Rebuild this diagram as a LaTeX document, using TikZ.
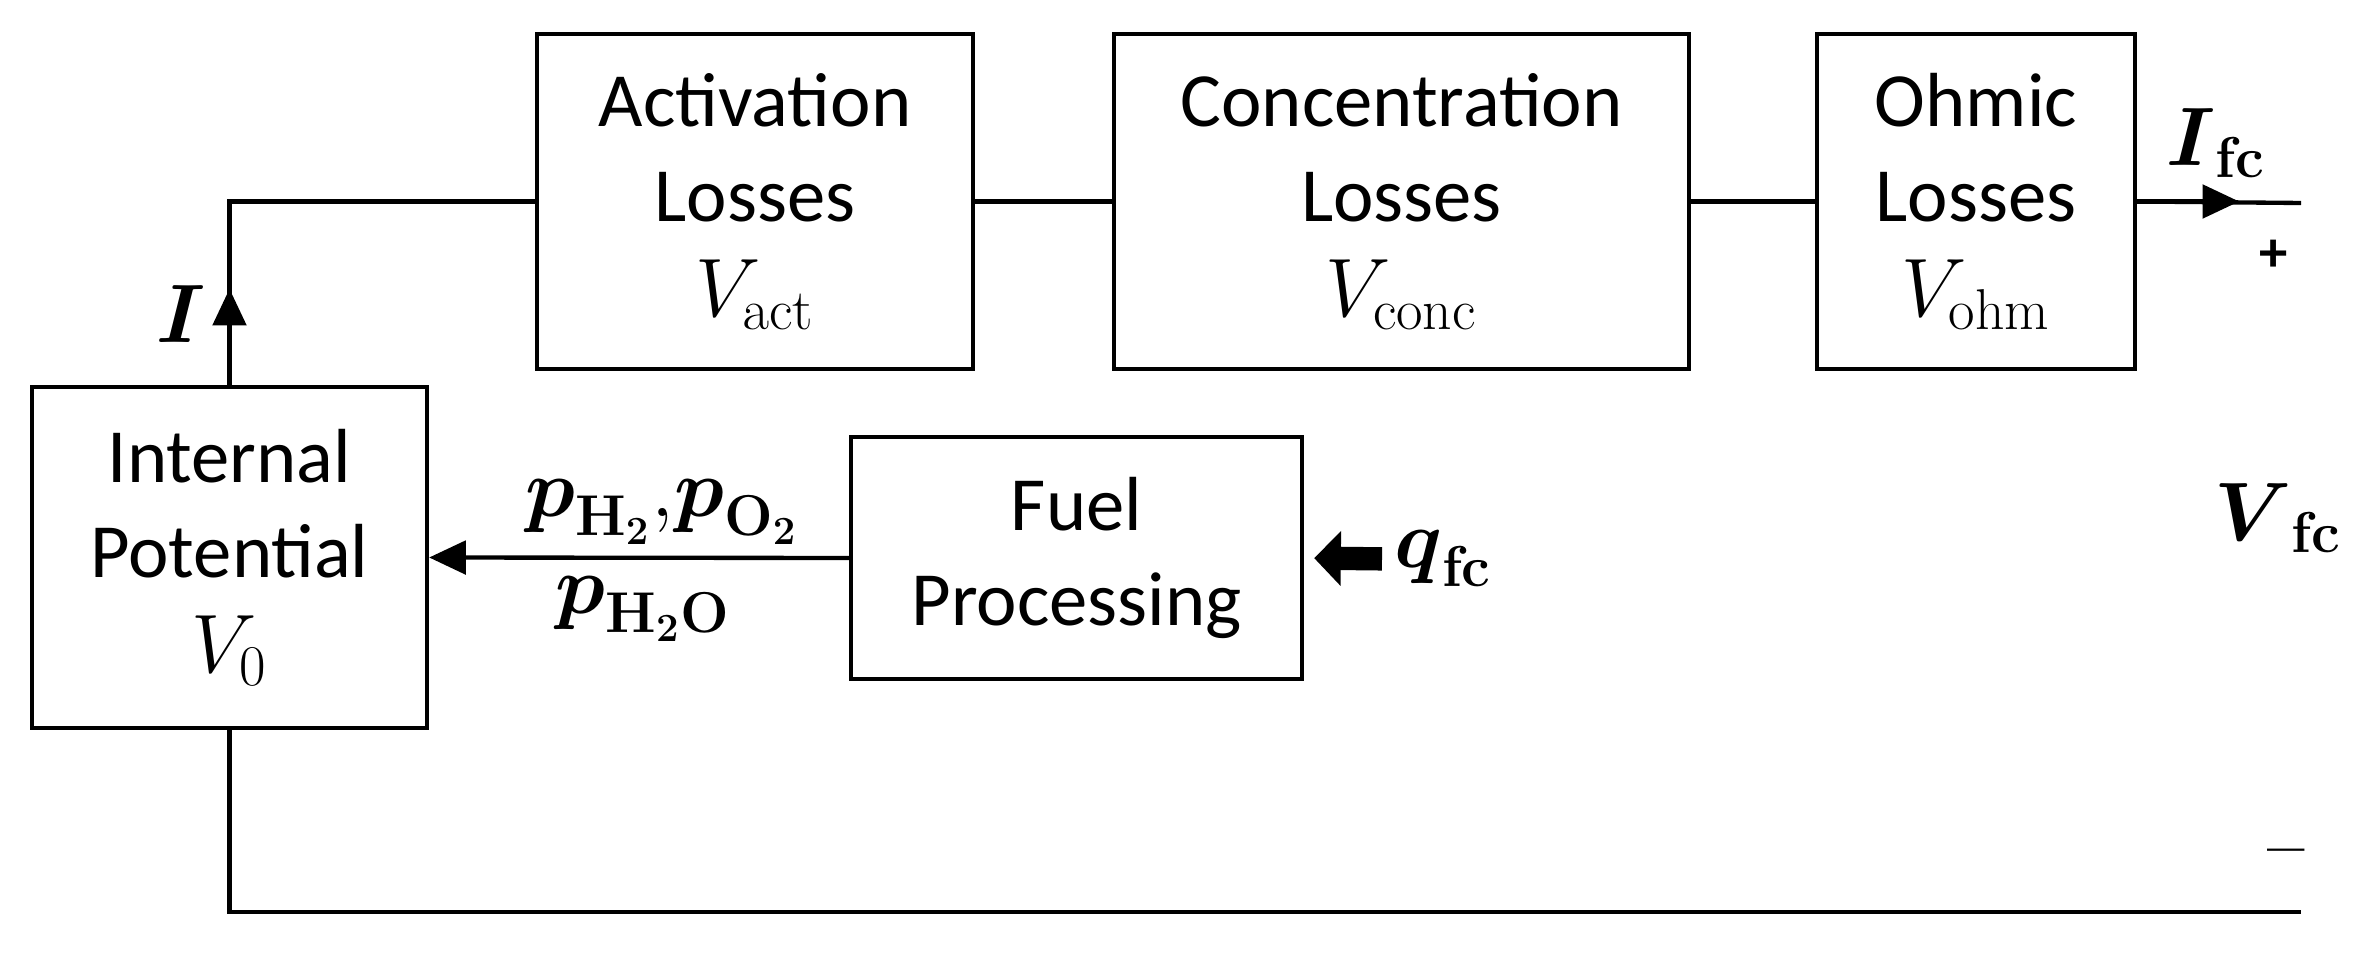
\documentclass[tikz,border=0pt]{standalone}
\usepackage[no-math]{fontspec}
\usepackage{amsmath}
\usetikzlibrary{arrows.meta}
\newfontfamily\calibri{Carlito}

\tikzset{every picture/.style={line width=1.3pt}}
\tikzset{
  block/.style={draw, align=center, inner sep=0pt, font=\calibri\fontsize{23}{28.5}\selectfont},
  lbl/.style={inner sep=0pt, font=\fontsize{23}{28}\selectfont},
  sign/.style={inner sep=0pt, font=\calibri\bfseries\fontsize{17}{17}\selectfont},
  tip/.style={-{Triangle[length=11pt,width=10pt]}},
  fat/.style={line width=7pt, -{Triangle[length=8pt,width=16pt]}}
}

\begin{document}
\begin{tikzpicture}[x=0.3pt,y=0.3pt,yscale=-1,xscale=1]
	\useasboundingbox (0,0) rectangle (2374,955);

	%Shape: Rectangle [Activation]
	\node[block, minimum width=130.8pt, minimum height=100.5pt] (act) at (755,201.5) {Activation\\Losses\\$V_{\mathrm{act}}$};
	%Shape: Rectangle [Concentration]
	\node[block, minimum width=172.5pt, minimum height=100.5pt] (conc) at (1401.5,201.5) {Concentration\\Losses\\$V_{\mathrm{conc}}$};
	%Shape: Rectangle [Ohmic]
	\node[block, minimum width=95.4pt, minimum height=100.5pt] (ohm) at (1976,201.5) {Ohmic\\Losses\\$V_{\mathrm{ohm}}$};
	%Shape: Rectangle [Internal]
	\node[block, minimum width=118.5pt, minimum height=102.3pt] (int) at (229.5,557.5) {Internal\\Potential\\$V_0$};
	%Shape: Rectangle [Fuel]
	\node[block, minimum width=135.3pt, minimum height=72.6pt] (fuel) at (1076.5,558) {Fuel\\Processing};

	% Text Node
	\node[lbl] (cur) at (181,314) {$\boldsymbol{I}$};
	% Text Node
	\node[lbl] (ifc) at (2216,143) {$\boldsymbol{I}_{\mathbf{fc}}$};
	% Text Node
	\node[lbl] (vfc) at (2278,518) {$\boldsymbol{V}_{\mathbf{fc}}$};
	% Text Node
	\node[sign] (plus) at (2274,256) {+};
	% Text Node
	\node[sign, font=\bfseries\fontsize{20}{20}\selectfont] (minus) at (2286,859) {\textendash};
	% Text Node
	\node[lbl] (pho) at (662,512) {$\boldsymbol{p}_{\mathbf{H}_{\mathbf{2}}}{,}\boldsymbol{p}_{\mathbf{O}_{\mathbf{2}}}$};
	% Text Node
	\node[lbl] (pw) at (643,609) {$\boldsymbol{p}_{\mathbf{H}_{\mathbf{2}}\mathbf{O}}$};
	% Text Node
	\node[lbl, anchor=west] (qfc) at (1392,559) {$\boldsymbol{q}_{\mathbf{fc}}$};

	\coordinate (pos) at (2301,203);
	\coordinate (neg) at (2301,912);

	%Straight Lines
	\draw (int.north) |- (act.west);
	\draw[tip] (int.north) -- ++(0,-96);
	\draw (act.east) -- (conc.west);
	\draw (conc.east) -- (ohm.west);
	\draw (ohm.east) -- (pos);
	\draw[tip] (ohm.east) -- ++(102,0);
	\draw (int.south) |- (neg);
	\draw[tip] (fuel.west) -- (int.east);
	\draw[fat, shorten <=3pt, shorten >=3pt] (qfc.west) -- (fuel.east);

\end{tikzpicture}
\end{document}
